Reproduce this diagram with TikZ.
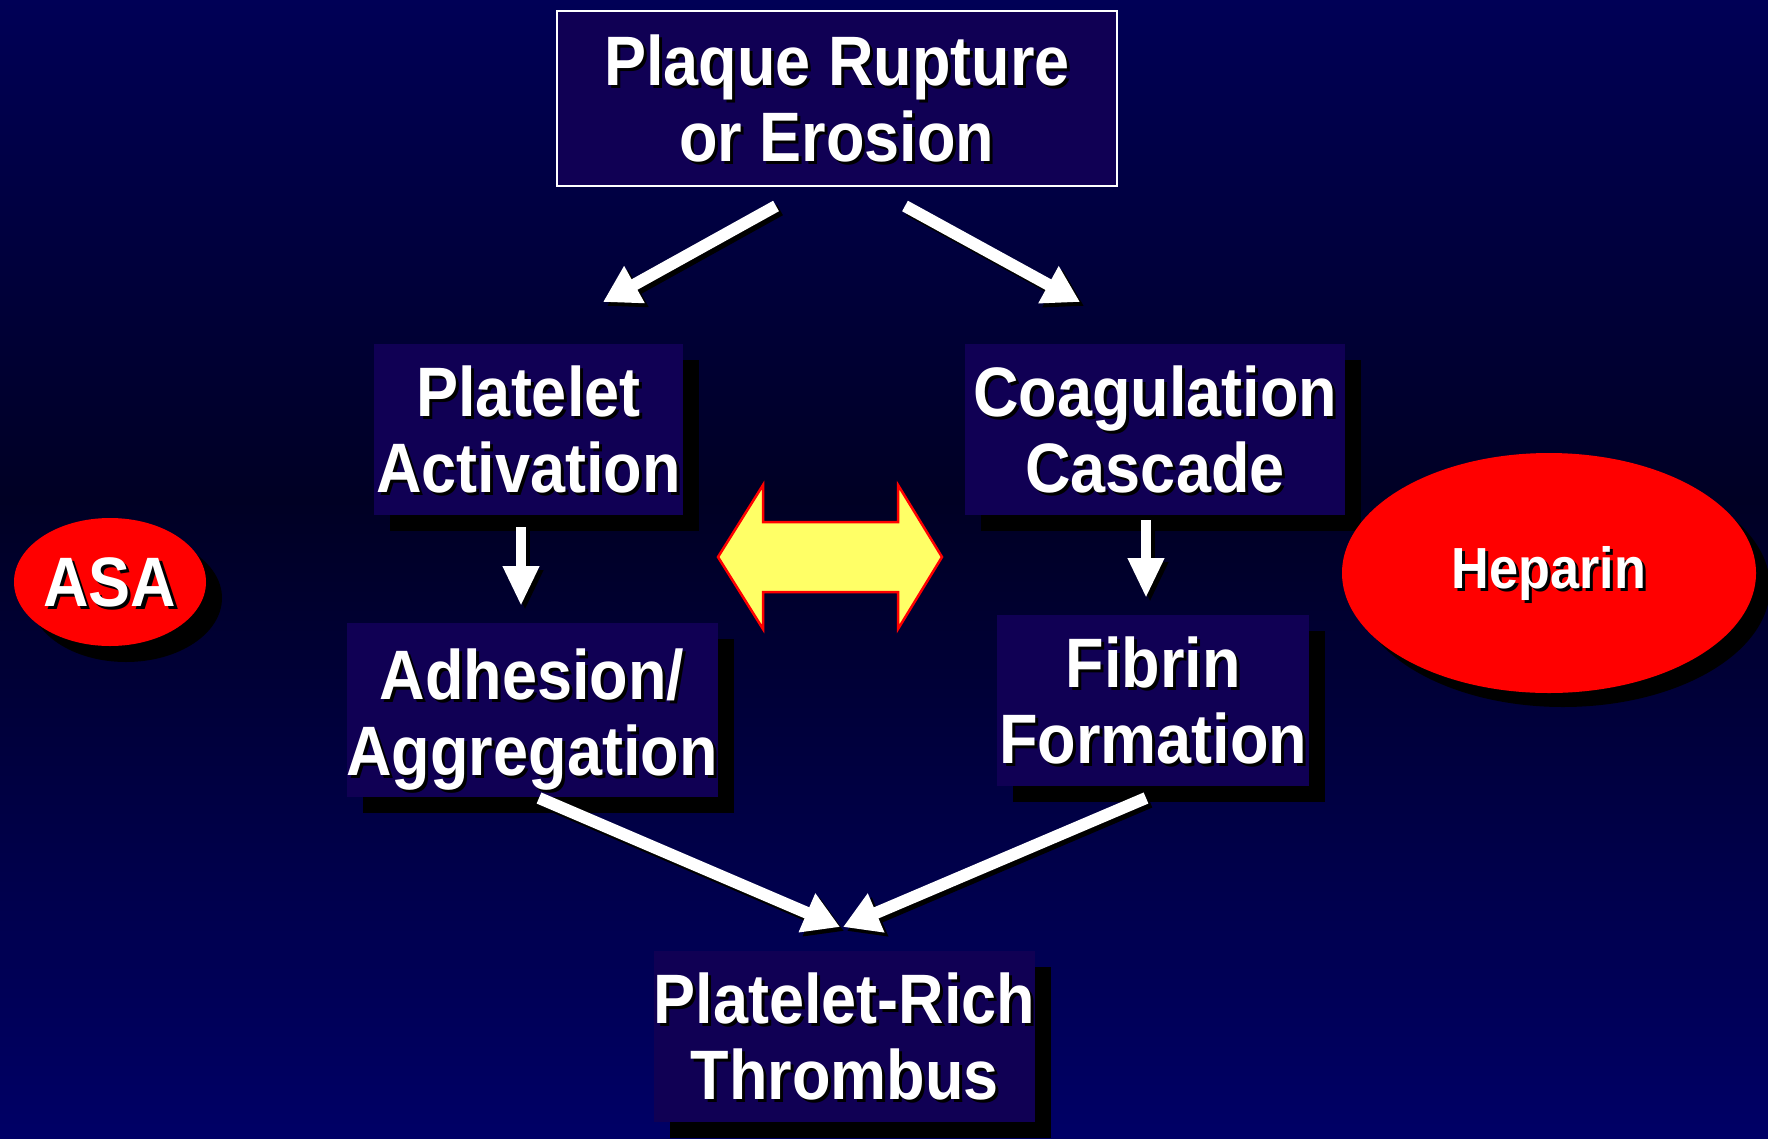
\documentclass[tikz,border=0pt]{standalone}
\usepackage{fontspec}
\setmainfont{Liberation Sans}[FakeStretch=0.9]
\usetikzlibrary{arrows.meta,shadows,shapes.geometric}
\definecolor{bgtop}{RGB}{0,0,86}
\definecolor{bgmid}{RGB}{0,0,36}
\definecolor{bgbot}{RGB}{0,0,102}
\definecolor{boxc}{RGB}{16,0,84}
\definecolor{yel}{RGB}{255,255,102}
\definecolor{redc}{RGB}{255,0,0}
\newcommand\Sh[1]{\leavevmode\rlap{\kern3pt\raisebox{-3pt}[0pt][0pt]{\textcolor{black}{#1}}}#1}
\begin{document}
\begin{tikzpicture}[x=1pt,y=-1pt,
  lbl/.style={text=white, font=\fontsize{70pt}{76pt}\selectfont\bfseries, align=center, inner sep=0pt},
  boxnode/.style={lbl, fill=boxc, drop shadow={shadow xshift=16pt, shadow yshift=-16pt, opacity=1, fill=black}},
  topbox/.style={lbl, fill=boxc, draw=white, line width=2.5pt},
  pill/.style={ellipse, fill=redc, inner sep=0pt, text=white, font=\bfseries},
  warrow/.style={draw=white, line width=12pt, -{Triangle[width=40pt,length=36pt]},
     preaction={draw=black, line width=12pt, -{Triangle[width=40pt,length=36pt]}, transform canvas={shift={(4pt,-4pt)}}}},
  varrow/.style={draw=white, line width=10pt, -{Triangle[width=34pt,length=40pt]},
     preaction={draw=black, line width=10pt, -{Triangle[width=34pt,length=40pt]}, transform canvas={shift={(4pt,-4pt)}}}}
]
\useasboundingbox (0,0) rectangle (1768,1138);
\shade[top color=bgtop, bottom color=bgmid] (0,0) rectangle (1768,500);
\shade[top color=bgmid, bottom color=bgbot] (0,499.5) rectangle (1768,1138);

% nodes
\node[topbox, minimum width=560pt, minimum height=175pt] (top) at (837,98.5) {\Sh{Plaque Rupture}\\\Sh{or Erosion}};
\node[boxnode, minimum width=309pt, minimum height=171pt] (pa) at (528.5,429.5) {\Sh{Platelet}\\\Sh{Activation}};
\node[boxnode, minimum width=370pt, minimum height=174pt] (aa) at (532,710) {\rule{0pt}{70pt}\Sh{Adhesion/}\\\Sh{Aggregation}};
\node[boxnode, minimum width=380pt, minimum height=171pt] (cc) at (1155,429.5) {\Sh{Coagulation}\\\Sh{Cascade}};
\node[boxnode, minimum width=312pt, minimum height=171pt] (ff) at (1153,700.5) {\Sh{Fibrin}\\\Sh{Formation}};
\node[boxnode, minimum width=377pt, minimum height=171pt] (prt) at (844.5,1036.5) {\Sh{Platelet-Rich}\\\Sh{Thrombus}};

\node[pill, minimum width=192pt, minimum height=128pt, drop shadow={shadow xshift=16pt, shadow yshift=-16pt, opacity=1, fill=black}, font=\fontsize{70pt}{76pt}\selectfont\bfseries] (asa) at (110,582) {\Sh{ASA}};
\node[pill, minimum width=414pt, minimum height=240pt, drop shadow={shadow xshift=14pt, shadow yshift=-14pt, opacity=1, fill=black}, font=\fontsize{58pt}{64pt}\selectfont\bfseries] (hep) at (1549,573) {\Sh{Heparin}};

% double arrow
\draw[fill=yel, draw=redc, line width=2.5pt, line join=miter]
  (718,557) -- (763,485) -- (763,522) -- (898,522) -- (898,485) -- (942,557)
  -- (898,629) -- (898,592) -- (763,592) -- (763,629) -- cycle;

% arrow end points
\coordinate (a1s) at (776,206); \coordinate (a1e) at (603,302);
\coordinate (a2s) at (905,206); \coordinate (a2e) at (1080,302);
\coordinate (a3s) at (521,527); \coordinate (a3e) at (521,606);
\coordinate (a4s) at (1146,520); \coordinate (a4e) at (1146,598);
\coordinate (a5s) at (539,798); \coordinate (a5e) at (840,927);
\coordinate (a6s) at (1146,798); \coordinate (a6e) at (843,927);

\draw[warrow] (a1s) -- (a1e);
\draw[warrow] (a2s) -- (a2e);
\draw[varrow] (a3s) -- (a3e);
\draw[varrow] (a4s) -- (a4e);
\draw[warrow] (a5s) -- (a5e);
\draw[warrow] (a6s) -- (a6e);
\end{tikzpicture}
\end{document}
